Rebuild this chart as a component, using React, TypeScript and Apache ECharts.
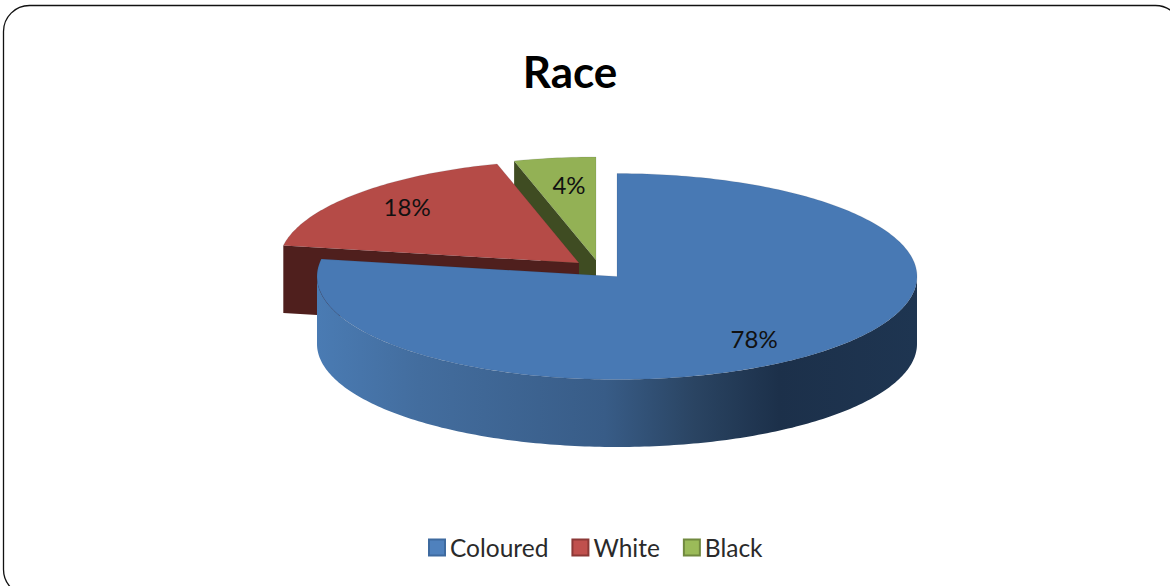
import React, { useEffect, useRef } from "react";
import * as echarts from "echarts";

// Data
const categories = ["Coloured", "White", "Black"];
const shares = [77.7, 17.9, 4.4];
const titleText = "Race";

// Styles
const topColors = ["#4879B4", "#B54B47", "#93B155"];
const wallColors = ["#1E3551", "#4F1F1D", "#3F4C22"];
const legendFills = ["#4F81BD", "#C0504D", "#9BBB59"];
const legendBorders = ["#3E6A9F", "#8C3836", "#71893F"];
const FONT = "Lato, Carlito, sans-serif";

// Layout of the pie
const CX = 617;
const CY = 276.5;
const RX = 300;
const RY = 103;
const DEPTH = 67.5;
const sliceShift = [[0, 0], [-38, -13.5], [-21, -16.5]];
const labelFactor = [[0.457, 0.6], [0.573, 0.55], [0.09, 0.735]];

const total = shares.reduce((a, b) => a + b, 0);

function arcPoints(ox: number, oy: number, a0: number, a1: number) {
  const n = Math.max(2, Math.ceil(Math.abs(a1 - a0) * 60));
  const pts: number[][] = [];
  for (let i = 0; i <= n; i++) {
    const a = a0 + ((a1 - a0) * i) / n;
    pts.push([ox + RX * Math.sin(a), oy - RY * Math.cos(a)]);
  }
  return pts;
}

function makeRenderItem(index: number) {
  return (_params: any, api: any) => {
    const v = api.value(0);
    const before = shares.slice(0, index).reduce((a, b) => a + b, 0);
    const a0 = (before / total) * Math.PI * 2;
    const a1 = a0 + (v / total) * Math.PI * 2;
    const ox = CX + sliceShift[index][0];
    const oy = CY + sliceShift[index][1];
    const children: any[] = [];

    // outer wall: the part of the rim that faces the viewer
    const w0 = Math.max(a0, Math.PI / 2);
    const w1 = Math.min(a1, (Math.PI * 3) / 2);
    if (w1 > w0) {
      const upper = arcPoints(ox, oy, w0, w1);
      const lower = arcPoints(ox, oy + DEPTH, w1, w0);
      children.push({
        type: "polygon",
        shape: { points: upper.concat(lower) },
        style: {
          fill: new echarts.graphic.LinearGradient(1, 0, 0, 0, [
            { offset: 0, color: "#1E3551" },
            { offset: 0.23, color: "#1C304A" },
            { offset: 0.37, color: "#2A4462" },
            { offset: 0.52, color: "#385C87" },
            { offset: 0.83, color: "#436D9E" },
            { offset: 1, color: "#4A7BB3" },
          ]),
        },
      });
    }

    // radial wall on the slice's starting edge
    if (Math.sin(a0) < -0.01) {
      const cx0 = ox + RX * Math.sin(a0);
      const cy0 = oy - RY * Math.cos(a0);
      children.push({
        type: "polygon",
        shape: {
          points: [
            [ox, oy],
            [cx0, cy0],
            [cx0, cy0 + DEPTH],
            [ox, oy + DEPTH],
          ],
        },
        style: { fill: wallColors[index] },
      });
    }

    // top face
    children.push({
      type: "polygon",
      shape: { points: [[ox, oy]].concat(arcPoints(ox, oy, a0, a1)) },
      style: {
        fill: topColors[index],
        stroke: "rgba(30,40,60,0.18)",
        lineWidth: 0.6,
      },
    });

    // percentage label
    children.push({
      type: "text",
      style: {
        x: ox + RX * labelFactor[index][0] * (Math.sin((a0 + a1) / 2) < 0 ? -1 : 1),
        y: oy + RY * labelFactor[index][1] * (Math.cos((a0 + a1) / 2) > 0 ? -1 : 1),
        text: Math.round((v / total) * 100) + "%",
        font: `400 24px ${FONT}`,
        fill: "#111111",
        textAlign: "center",
        textVerticalAlign: "middle",
      },
    });

    return { type: "group", children };
  };
}

export default function App() {
  const ref = useRef<HTMLDivElement>(null);
  useEffect(() => {
    document.body.style.margin = "0";
    const chart = echarts.init(ref.current!, null, { renderer: "svg" });
    chart.setOption({
      animation: false,
      backgroundColor: "#ffffff",
      title: {
        text: titleText,
        left: 565,
        top: 44,
        textAlign: "center",
        textStyle: { fontFamily: FONT, fontSize: 44, fontWeight: 700, color: "#000000" },
      },
      legend: {
        left: 423,
        top: 530,
        itemWidth: 16,
        itemHeight: 16,
        itemGap: 23,
        icon: "rect",
        textStyle: { fontFamily: FONT, fontSize: 24.5, color: "#2a2a2a" },
        data: categories.map((name, i) => ({
          name,
          itemStyle: {
            color: legendFills[i],
            borderColor: legendBorders[i],
            borderWidth: 2,
          },
        })),
      },
      graphic: [
        {
          type: "rect",
          silent: true,
          z: -1,
          shape: { x: 3.5, y: 5.5, width: 1178, height: 590, r: 26 },
          style: { fill: "#ffffff", stroke: "#111111", lineWidth: 1.3 },
        },
      ],
      series: categories.map((name, i) => ({
        type: "custom",
        name,
        coordinateSystem: "none",
        z: 3 - i + 2,
        itemStyle: { color: legendFills[i] },
        data: [[shares[i]]],
        renderItem: makeRenderItem(i),
      })),
    });
    return () => chart.dispose();
  }, []);
  return <div ref={ref} style={{ width: 1170, height: 586, position: "fixed", left: 0, top: 0 }} />;
}
